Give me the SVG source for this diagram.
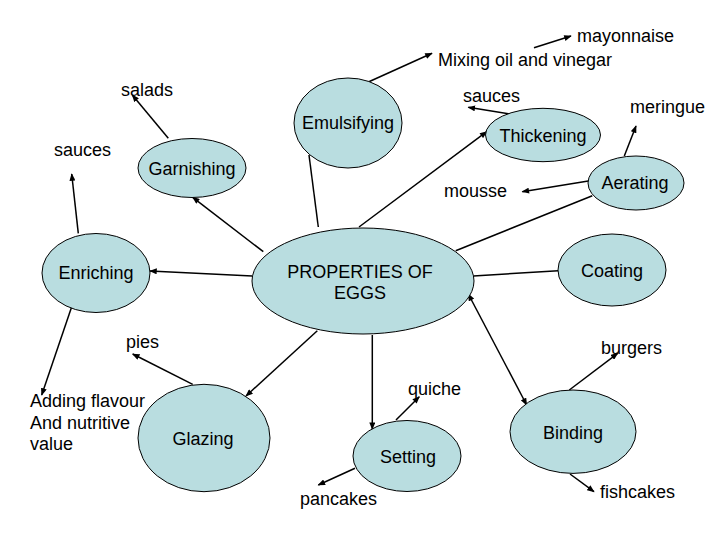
<svg xmlns="http://www.w3.org/2000/svg" width="720" height="540" viewBox="0 0 720 540">
<style>
text{font-family:"Liberation Sans",Arial,sans-serif;font-size:18px;fill:#000}
.n ellipse{fill:#b9dde0;stroke:#000;stroke-width:1}
.n text{text-anchor:middle}
#connectors line{stroke:#000;stroke-width:1.5}
.a{marker-end:url(#ah)}
</style>
<defs>
<marker id="ah" viewBox="0 0 10 8" refX="9" refY="4" markerWidth="8" markerHeight="6" markerUnits="userSpaceOnUse" orient="auto">
<path d="M0,0 L10,4 L0,8 z" fill="#000"/>
</marker>
<marker id="as" viewBox="0 0 10 8" refX="1" refY="4" markerWidth="8" markerHeight="6" markerUnits="userSpaceOnUse" orient="auto">
<path d="M10,0 L0,4 L10,8 z" fill="#000"/>
</marker>
</defs>
<rect width="720" height="540" fill="#fff"/>
<g id="connectors">
<line class="a" x1="534" y1="47.7" x2="571" y2="36"/>
<line class="a" x1="366.7" y1="82.7" x2="432" y2="53.3"/>
<line class="a" x1="168.3" y1="138.3" x2="132.3" y2="95"/>
<line class="a" x1="78.3" y1="233.3" x2="71.7" y2="174"/>
<line class="a" x1="263.3" y1="251.7" x2="192.7" y2="197.3"/>
<line x1="309" y1="155" x2="318.3" y2="227"/>
<line class="a" x1="359" y1="227" x2="486.7" y2="131.7"/>
<line class="a" x1="510" y1="114" x2="468.3" y2="107.3"/>
<line class="a" x1="624.3" y1="156" x2="636" y2="126"/>
<line class="a" x1="588.3" y1="181" x2="522.3" y2="191.7"/>
<line x1="455.7" y1="250.7" x2="592.3" y2="195.7"/>
<line x1="473.3" y1="276" x2="558.3" y2="270.7"/>
<line class="a" x1="252.3" y1="276" x2="150" y2="271"/>
<line class="a" x1="71.7" y1="306.7" x2="41.7" y2="395"/>
<line class="a" x1="192.7" y1="384.3" x2="132.7" y2="354"/>
<line class="a" x1="317.3" y1="330.7" x2="246" y2="396"/>
<line class="a" x1="372.3" y1="335" x2="372.3" y2="429.3"/>
<line class="a" x1="396" y1="420" x2="419.3" y2="396.7"/>
<line class="a" x1="355" y1="468.3" x2="318.3" y2="485"/>
<line x1="468.3" y1="294" x2="526.7" y2="405" marker-start="url(#as)" marker-end="url(#ah)"/>
<line class="a" x1="569.3" y1="390" x2="617.7" y2="353.3"/>
<line class="a" x1="570" y1="474" x2="594" y2="491.7"/>
</g>
<g id="labels">
<text x="577" y="42">mayonnaise</text>
<text x="438" y="66">Mixing oil and vinegar</text>
<text x="121" y="96">salads</text>
<text x="54" y="156">sauces</text>
<text x="463" y="102">sauces</text>
<text x="630" y="113">meringue</text>
<text x="444" y="197">mousse</text>
<text x="126" y="348">pies</text>
<text x="601" y="354">burgers</text>
<text x="408" y="395">quiche</text>
<text x="30" y="407">Adding flavour</text>
<text x="30" y="429">And nutritive</text>
<text x="30" y="450">value</text>
<text x="300" y="505">pancakes</text>
<text x="600" y="498">fishcakes</text>
</g>
<g id="eggs" class="n"><ellipse cx="363" cy="281" rx="111" ry="53"/><text x="360" y="278">PROPERTIES OF</text><text x="360" y="299">EGGS</text></g>
<g id="garnishing" class="n"><ellipse cx="192" cy="168" rx="54" ry="29.5"/><text x="192" y="175">Garnishing</text></g>
<g id="emulsifying" class="n"><ellipse cx="348" cy="123" rx="54" ry="45"/><text x="348" y="129">Emulsifying</text></g>
<g id="thickening" class="n"><ellipse cx="543" cy="135" rx="57.5" ry="26.7"/><text x="543" y="141.5">Thickening</text></g>
<g id="aerating" class="n"><ellipse cx="636" cy="183" rx="48" ry="27"/><text x="635" y="189">Aerating</text></g>
<g id="coating" class="n"><ellipse cx="612" cy="270" rx="54" ry="36"/><text x="612" y="276.5">Coating</text></g>
<g id="enriching" class="n"><ellipse cx="96" cy="273" rx="54" ry="39.5"/><text x="96" y="279">Enriching</text></g>
<g id="glazing" class="n"><ellipse cx="204" cy="438" rx="66" ry="53.7"/><text x="203" y="445">Glazing</text></g>
<g id="setting" class="n"><ellipse cx="407" cy="456" rx="54" ry="35.5"/><text x="408" y="462.5">Setting</text></g>
<g id="binding" class="n"><ellipse cx="573" cy="431.7" rx="63" ry="41.7"/><text x="573" y="439">Binding</text></g>
</svg>
